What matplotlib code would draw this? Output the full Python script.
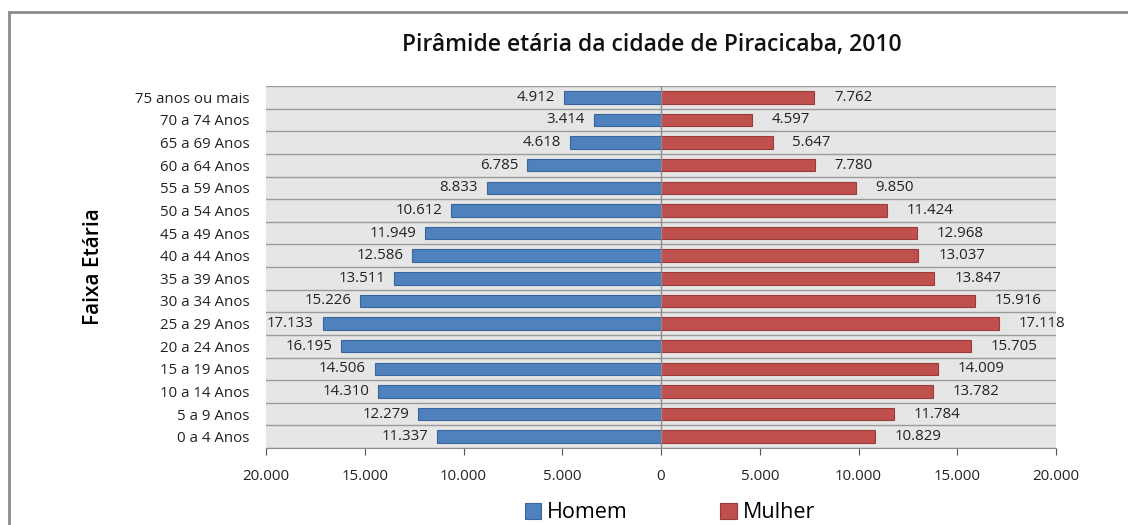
import matplotlib.pyplot as plt
import matplotlib.patches as patches
from matplotlib.ticker import FuncFormatter
import numpy as np

plt.rcParams['font.family'] = ['Open Sans', 'DejaVu Sans']

# Data
faixas = ["0 a 4 Anos", "5 a 9 Anos", "10 a 14 Anos", "15 a 19 Anos", "20 a 24 Anos",
          "25 a 29 Anos", "30 a 34 Anos", "35 a 39 Anos", "40 a 44 Anos", "45 a 49 Anos",
          "50 a 54 Anos", "55 a 59 Anos", "60 a 64 Anos", "65 a 69 Anos", "70 a 74 Anos",
          "75 anos ou mais"]
homem = [11337, 12279, 14310, 14506, 16195, 17133, 15226, 13511, 12586, 11949,
         10612, 8833, 6785, 4618, 3414, 4912]
mulher = [10829, 11784, 13782, 14009, 15705, 17118, 15916, 13847, 13037, 12968,
          11424, 9850, 7780, 5647, 4597, 7762]
x_ticks = [-20000, -15000, -10000, -5000, 0, 5000, 10000, 15000, 20000]

def fmt_br(v):
    return f"{int(abs(v)):,}".replace(",", ".")

#---------------------------------------------------------------------------------------------------------------------------#

fig = plt.figure(figsize=(11.28, 5.25), dpi=100)
W, H = 1128, 525
ax = fig.add_axes([266 / W, 1 - 448 / H, (1056 - 266) / W, (448 - 86) / H])
ax.set_facecolor("#e6e6e6")

y = np.arange(len(faixas))
ax.barh(y, -np.array(homem), height=0.55, color="#4f81bd", edgecolor="#3a659a", linewidth=0.8, label="Homem", zorder=3)
ax.barh(y, mulher, height=0.55, color="#c0504d", edgecolor="#9b3b38", linewidth=0.8, label="Mulher", zorder=3)

for i in range(len(faixas)):
    ax.text(-homem[i] - 450, y[i], fmt_br(homem[i]), ha="right", va="center", fontsize=10.8, color="#222222", zorder=4)
    ax.text(mulher[i] + 1000, y[i], fmt_br(mulher[i]), ha="left", va="center", fontsize=10.8, color="#222222", zorder=4)

# horizontal separators between categories
for k in range(len(faixas) + 1):
    ax.axhline(k - 0.5, color="#9a9a9a", linewidth=1.0, zorder=2)
ax.axvline(0, color="#8c8c8c", linewidth=1.0, zorder=4)

ax.set_xlim(-20000, 20000)
ax.set_ylim(-0.5, len(faixas) - 0.5)
ax.set_xticks(x_ticks)
ax.xaxis.set_major_formatter(FuncFormatter(lambda v, p: fmt_br(v)))
ax.set_yticks(y)
ax.set_yticklabels(faixas)
ax.tick_params(axis="y", length=0, labelsize=10.8, pad=12, colors="#222222")
ax.tick_params(axis="x", length=5, direction="out", labelsize=10.8, pad=10, colors="#555555", labelcolor="#222222")
for s in ["left", "right", "top"]:
    ax.spines[s].set_visible(False)
ax.spines["bottom"].set_color("#8c8c8c")

ax.set_ylabel("Faixa Etária", fontsize=15, fontweight="semibold", labelpad=12)
ax.yaxis.set_label_coords(-0.205, 0.5)

fig.text(652 / W, 1 - 45 / H, "Pirâmide etária da cidade de Piracicaba, 2010", ha="center", va="center",
         fontsize=16.5, fontweight="semibold", color="#111111")

leg = fig.legend(loc="center", bbox_to_anchor=(670 / W, 1 - 513 / H), ncol=2, frameon=False,
                 fontsize=15.5, handlelength=0.75, handleheight=0.75, columnspacing=4.3, handletextpad=0.3)

# outer chart frame
fig.add_artist(patches.Rectangle((9 / W, -0.1), 1.2, 1 - 12 / H + 0.1, transform=fig.transFigure,
                                 fill=False, edgecolor="#8a8a8a", linewidth=2))

fig.savefig("out.png", dpi=100)
